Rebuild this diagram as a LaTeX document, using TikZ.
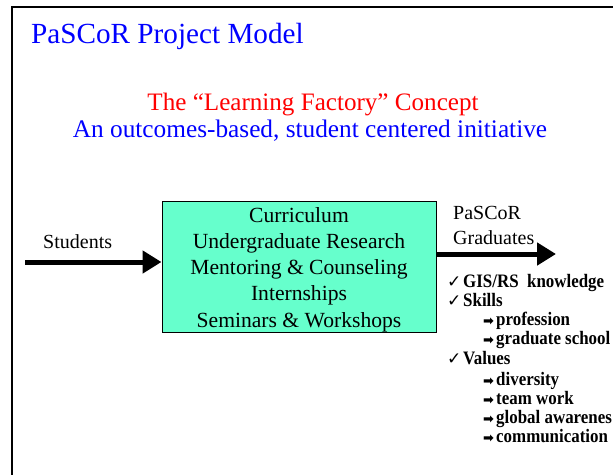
\documentclass[tikz,border=0pt]{standalone}
\usepackage{fontspec}
\usepackage{graphicx}
\setmainfont{Liberation Serif}
\newfontfamily\symfont{DejaVu Sans}
\usetikzlibrary{arrows.meta}
\definecolor{boxfill}{HTML}{66FFCC}
\definecolor{ttlblue}{HTML}{0000FF}
\tikzset{
  lbl/.style={inner sep=0pt, anchor=base west},
  item/.style={inner sep=0pt, anchor=base west, font=\fontsize{19}{21}\selectfont\bfseries},
  fat/.style={line width=5pt, -{Triangle[length=19pt,width=22pt]}},
}
\newcommand{\chk}[1]{\makebox[16pt][l]{\symfont\fontsize{17}{18}\selectfont ✓}\scalebox{0.89}[1]{#1}}
\newcommand{\arr}[1]{\makebox[13pt][l]{\symfont\fontsize{13}{14}\selectfont ➡}\scalebox{0.89}[1]{#1}}
\begin{document}
\begin{tikzpicture}[x=1pt,y=-1pt]
\useasboundingbox (0,0) rectangle (613,474);
\fill[white] (0,0) rectangle (613,474);
% frame
\draw[gray!60, line width=2.5pt] (12,490) -- (12,7) -- (630,7);
\draw[black, line width=1.3pt] (12,490) -- (12,7) -- (630,7);
% titles
\node[lbl, text=ttlblue, font=\fontsize{29.2}{32}\selectfont] (title) at (31,43) {PaSCoR Project Model};
\node[inner sep=0pt, anchor=base, text=red, font=\fontsize{25.1}{28}\selectfont] (concept) at (313,110) {The “Learning Factory” Concept};
\node[inner sep=0pt, anchor=base, text=ttlblue, font=\fontsize{25.3}{28}\selectfont] (sub) at (310,137) {An outcomes-based, student centered initiative};
% box
\node[draw=black, line width=1pt, fill=boxfill, minimum width=274pt, minimum height=131pt, inner sep=0pt] (box) at (299,266.5) {};
\node[inner sep=0pt, font=\fontsize{21.6}{26.3}\selectfont, align=center] (boxtext) at ([yshift=-3pt]box.center)
  {Curriculum\\Undergraduate Research\\Mentoring \& Counseling\\Internships\\Seminars \& Workshops};
% students
\node[lbl, font=\fontsize{20}{24}\selectfont] (stud) at (43,248) {Students};
\coordinate (inL) at (25,262);
\draw[fat] (inL) -- (inL -| box.west);
% graduates
\node[lbl, font=\fontsize{20}{24}\selectfont] (pas) at (453,219) {PaSCoR};
\node[lbl, font=\fontsize{20}{24}\selectfont] (grad) at (453,244) {Graduates};
\coordinate (outR) at (556,254);
\draw[fat] (box.east |- outR) -- (outR);
% list
\node[item] (i1) at (447,287) {\chk{GIS/RS\ \ knowledge}};
\node[item] (i2) at (447,306) {\chk{Skills}};
\node[item] (i3) at (483,325) {\arr{profession}};
\node[item] (i4) at (483,344) {\arr{graduate school}};
\node[item] (i5) at (447,364) {\chk{Values}};
\node[item] (i6) at (483,385) {\arr{diversity}};
\node[item] (i7) at (483,404) {\arr{team work}};
\node[item] (i8) at (483,423) {\arr{global awarenes}};
\node[item] (i9) at (483,442) {\arr{communication}};
\end{tikzpicture}
\end{document}
